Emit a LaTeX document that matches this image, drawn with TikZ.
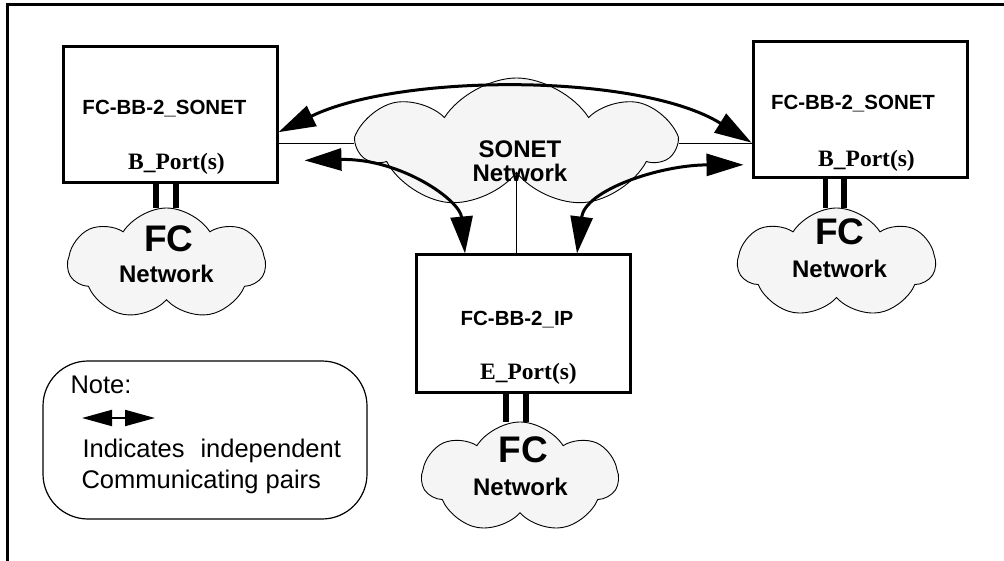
\documentclass[tikz,border=0pt]{standalone}
\usepackage{fontspec}
\setmainfont{Liberation Serif}
\setsansfont{Liberation Sans}
\usetikzlibrary{arrows.meta,shapes.symbols}
\definecolor{cloudgray}{RGB}{245,245,245}
\tikzset{
>={Triangle[length=37pt,width=22pt]}, % long filled heads
box/.style={draw, line width=3pt, minimum width=214pt, minimum height=136pt, inner sep=0pt},
net/.style={draw, cloud, cloud puffs=7, cloud puff arc=115, cloud ignores aspect, shape border rotate=90, fill=cloudgray, line width=0.9pt, inner sep=0pt},
boxtitle/.style={font=\sffamily\bfseries\fontsize{20.5}{20}\selectfont, anchor=base},
port/.style={font=\bfseries\fontsize{23.5}{24}\selectfont, anchor=base},
bigfc/.style={font=\sffamily\bfseries\fontsize{37}{37}\selectfont, anchor=base},
netname/.style={font=\sffamily\bfseries\fontsize{24}{24}\selectfont, anchor=base},
notetext/.style={font=\sffamily\fontsize{25.5}{25}\selectfont, anchor=base west},
}
\begin{document}
\begin{tikzpicture}[x=1pt,y=-1pt]
\useasboundingbox (0,0) rectangle (1004,561);
\draw[line width=3pt] (7,561) -- (7,5) -- (1004,5);

\node[box] (lbox) at (170,115) {};
\node[box] (rbox) at (860,109.5) {};
\node[box, minimum height=137pt] (ipbox) at (523.5,323.5) {};
\node[boxtitle] (lbox-t) at (164.5,115) {FC-BB-2\_SONET};
\node[port] (lbox-p) at (176.5,170) {B\_Port(s)};
\node[boxtitle] (rbox-t) at (853,110) {FC-BB-2\_SONET};
\node[port] (rbox-p) at (866.5,167) {B\_Port(s)};
\node[boxtitle] (ipbox-t) at (517,326) {FC-BB-2\_IP};
\node[port] (ipbox-p) at (528.5,379) {E\_Port(s)};

\node[net, minimum width=313pt, minimum height=131pt] (sonet) at (516.5,143.5) {};
\node[net, minimum width=197pt, minimum height=112pt] (lnet) at (166.5,264) {};
\node[net, minimum width=197pt, minimum height=110pt] (rnet) at (836.5,263) {};
\node[net, minimum width=196pt, minimum height=111pt] (inet) at (520,477.5) {};
\node[netname, align=center, anchor=center] (sonet-t) at (520,161) {SONET\\Network};
\node[bigfc] (lnet-fc) at (169,252) {FC};
\node[netname] (lnet-nw) at (166.5,283) {Network};
\node[bigfc] (rnet-fc) at (840,245) {FC};
\node[netname] (rnet-nw) at (839.5,278) {Network};
\node[bigfc] (inet-fc) at (523.5,462) {FC};
\node[netname] (inet-nw) at (520.5,495) {Network};

\node[draw, rounded corners=45pt, line width=1.2pt, minimum width=324pt, minimum height=158pt] (note) at (205,440) {};
\node[notetext] (note-h) at (67,393) {Note:};
\coordinate (keyl) at (82,418);
\coordinate (keyr) at (155,418);
\node[notetext] (note-a) at (79,457) {Indicates};
\node[notetext] (note-b) at (197,457) {independent};
\node[notetext] (note-c) at (78,488) {Communicating pairs};

\draw[line width=1.5pt]
(lbox.east |- sonet.west) -- (sonet.west)
(sonet.east) -- (sonet.east -| rbox.west)
(sonet.south) -- (sonet.south |- ipbox.north);
\draw[line width=5.5pt]
([xshift=-14pt]lbox.south) -- ([xshift=-14pt]lbox.south |- lnet.north)
([xshift=6pt]lbox.south) -- ([xshift=6pt]lbox.south |- lnet.north)
([xshift=-34.5pt]rbox.south) -- ([xshift=-34.5pt]rbox.south |- rnet.north)
([xshift=-16pt]rbox.south) -- ([xshift=-16pt]rbox.south |- rnet.north)
([xshift=-17.5pt]ipbox.south) -- ([xshift=-17.5pt]ipbox.south |- inet.north)
([xshift=2.5pt]ipbox.south) -- ([xshift=2.5pt]ipbox.south |- inet.north);

\draw[<->, line width=3pt] (lbox.-9) .. controls (400,73) and (640,73) .. (rbox.197);
\draw[<->, line width=3pt, shorten <=26pt] (lbox.-23) .. controls (400,158) and (460,200) .. ([xshift=50pt]ipbox.north west);
\draw[<->, line width=3pt, shorten >=8pt] ([xshift=-55pt]ipbox.north east) .. controls (585,190) and (660,165) .. (rbox.207);
\draw[<->, >={Triangle[length=30pt,width=16pt]}, line width=2pt] (keyl) -- (keyr);
\end{tikzpicture}
\end{document}
